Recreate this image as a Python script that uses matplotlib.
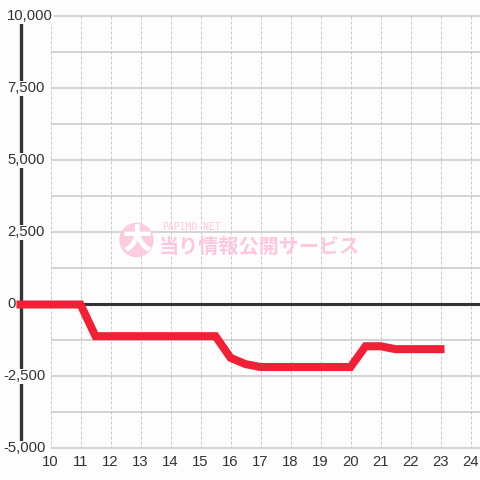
import matplotlib
matplotlib.use("Agg")
from matplotlib import pyplot as plt
from matplotlib.patches import Circle

# half-hour samples, 9:00 -> 23:00
hours = [9, 9.5, 10, 10.5, 11, 11.5, 12, 12.5, 13, 13.5, 14, 14.5, 15, 15.5,
         16, 16.5, 17, 17.5, 18, 18.5, 19, 19.5, 20, 20.5, 21, 21.5, 22, 22.5, 23]
diff = [0, 0, 0, 0, 0, -1100, -1100, -1100, -1100, -1100, -1100, -1100, -1100, -1100,
        -1850, -2070, -2170, -2170, -2170, -2170, -2170, -2170, -2170, -1450, -1450,
        -1550, -1550, -1550, -1550]

xticks = list(range(10, 25))
yticks = [10000, 7500, 5000, 2500, 0, -2500, -5000]
ygrid = [10000, 8750, 7500, 6250, 5000, 3750, 2500, 1250, 0, -1250, -2500, -3750, -5000]

bg = "#fcfdfc"
grid_c = "#c8c8c8"
dark = "#333333"
red = "#ee2137"
pink = "#fcc8df"

plt.rcParams['font.family'] = ['Liberation Sans', 'DejaVu Sans']

fig = plt.figure(figsize=(4.8, 4.8), dpi=100, facecolor=bg)
ax = fig.add_axes([0, 0, 1, 1])
ax.set_facecolor(bg)
ax.axis("off")
# 30 px per hour, 28.8 px per 1000 (offset half a pixel so 1px lines stay crisp)
x0 = 9 - 20.5 / 30
y1 = 10000 + 16.5 / 28.8 * 1000
ax.set_xlim(x0, x0 + 480 / 30)
ax.set_ylim(y1 - 480 / 28.8 * 1000, y1)

# grid
for y in ygrid:
    if y == 0:
        continue
    ax.plot([10.03, 24.5], [y, y], color=grid_c, lw=1.1, zorder=1, solid_capstyle="butt")
for x in xticks:
    ax.plot([x, x], [10000, -5000], color=grid_c, lw=0.72, ls=(0, (3, 2)), zorder=1)

# zero line and y axis
ax.plot([10.03, 24.5], [0, 0], color=dark, lw=2.2, zorder=2, solid_capstyle="butt")
ax.plot([9, 9], [10000, -5000], color=dark, lw=2.4, zorder=2, solid_capstyle="butt")

# watermark
fig.patches.append(Circle((136.5 / 480, 1 - 240 / 480), 16.5 / 480, transform=fig.transFigure,
                          color=pink, alpha=0.9, zorder=3))
fig.text(136.5 / 480, 1 - 241 / 480, "大", family=['Noto Sans CJK JP'], weight="black",
         fontsize=21, color="white", ha="center", va="center", zorder=4)
fig.text(162 / 480, 1 - 226.5 / 480, "PAPIMO-NET", family=['DejaVu Sans Mono'], fontsize=7,
         color=pink, ha="left", va="center", zorder=4)
fig.text(159 / 480, 1 - 246 / 480, "当り情報公開サービス", family=['Noto Sans CJK JP'],
         weight="bold", fontsize=14.5, color=pink, ha="left", va="center", zorder=4)

# data
ax.plot(hours, diff, color=red, lw=5.8, solid_capstyle="projecting",
        solid_joinstyle="miter", zorder=5)

# tick labels
for y in yticks:
    lx = 9 - 17.5 / 30 if y < 0 else 9 - 13.5 / 30
    ax.text(lx, y, f"{y:,}", ha="left", va="center", fontsize=10.7, color=dark, zorder=6,
            bbox=dict(boxstyle="square,pad=0.05", fc=bg, ec="none"))
for x in xticks:
    ax.text(x, 10000 - 446 / 28.8 * 1000, str(x), ha="center", va="center",
            fontsize=10.7, color=dark, zorder=6)

fig.savefig("out.png", dpi=100, facecolor=bg)
